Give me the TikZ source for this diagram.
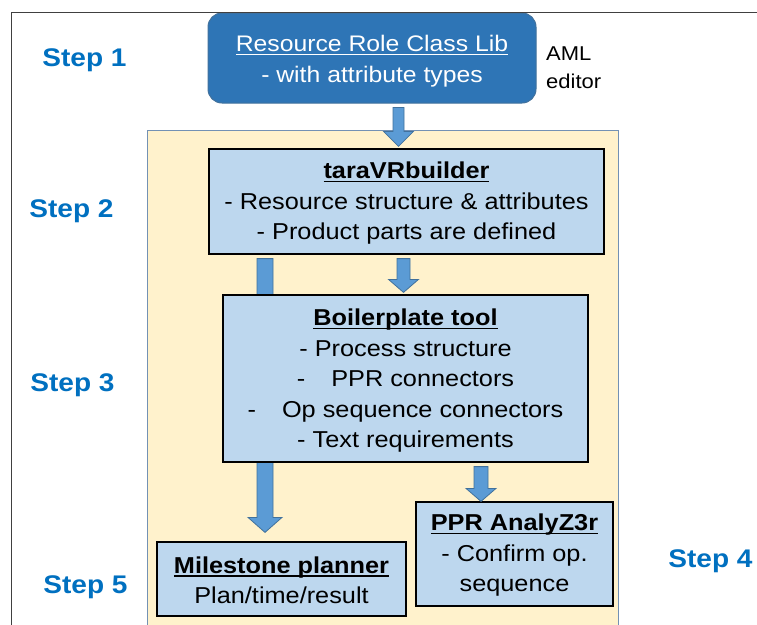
\documentclass[tikz,border=0pt]{standalone}
\usepackage{fontspec}
\setmainfont[FakeStretch=1.1]{Liberation Sans}
\usetikzlibrary{calc}
\definecolor{stepblue}{HTML}{0070C0}
\definecolor{darkbox}{HTML}{2E75B6}
\definecolor{darkboxline}{HTML}{41719C}
\definecolor{lightbox}{HTML}{BDD7EE}
\definecolor{cream}{HTML}{FFF2CC}
\definecolor{creamline}{HTML}{7391B4}
\definecolor{arrfill}{HTML}{5B9BD5}
\definecolor{arrline}{HTML}{41719C}
\definecolor{framegray}{HTML}{404040}
\newcommand\ulx[1]{\setbox0\hbox{#1}\leavevmode\rlap{\rule[-3.5pt]{\wd0}{1.3pt}}\box0}
\newcommand\blockarr[7]{%
  \coordinate (tmpx) at (#3,0);
  \path[blockarrow] let \p1=(tmpx |- #1.south), \p2=(tmpx |- #2.north) in
    (\x1-#4pt,\y1-4pt) -- (\x1+#4pt,\y1-4pt) -- (\x1+#4pt,\y2+#6pt+#7pt)
    -- (\x1+#5pt,\y2+#6pt+#7pt) -- (\x1,\y2+#7pt) -- (\x1-#5pt,\y2+#6pt+#7pt)
    -- (\x1-#4pt,\y2+#6pt+#7pt) -- cycle;}
\begin{document}
\begin{tikzpicture}[x=1pt,y=-1pt,
  steplabel/.style={font=\fontsize{25.5}{30}\selectfont\bfseries, text=stepblue, anchor=base, inner sep=0pt},
  toolbox/.style={draw=black, line width=1.2pt, fill=lightbox, align=center, font=\fontsize{23}{30.5}\selectfont, inner sep=0pt},
  rolebox/.style={draw=darkboxline, line width=1pt, fill=darkbox, rounded corners=14pt, text=white, align=center, font=\fontsize{22.5}{31}\selectfont, inner sep=0pt},
  areabox/.style={draw=creamline, line width=1pt, fill=cream, inner sep=0pt},
  blockarrow/.style={fill=arrfill, draw=arrline, line width=0.8pt, line join=miter},
  notetext/.style={font=\fontsize{20}{27.5}\selectfont, align=left, anchor=north west, inner sep=0pt}
]
\useasboundingbox (0,0) rectangle (757,624);
\clip (0,0) rectangle (757,624);
\fill[white] (0,0) rectangle (757,624);

\node[areabox, minimum width=471pt, minimum height=510pt] (area) at (382.5,385) {};

\node[rolebox, minimum width=328pt, minimum height=90pt] (res) at (372,58)
  {\rule{0pt}{23.5pt}\ulx{Resource Role Class Lib}\\- with attribute types};

\node[toolbox, minimum width=395pt, minimum height=105pt] (tara) at (406.5,201.5)
  {\rule{0pt}{20pt}\ulx{\bfseries taraVRbuilder}\\- Resource structure \& attributes\\- Product parts are defined};

\node[toolbox, minimum width=249pt, minimum height=74pt] (mile) at (281.5,579)
  {\rule{0pt}{19pt}\ulx{\bfseries Milestone planner}\\Plan/time/result};

\node[toolbox, minimum width=197pt, minimum height=104pt] (ppr) at (514.5,554)
  {\rule{0pt}{19pt}\ulx{\bfseries PPR AnalyZ3r}\\- Confirm op.\\sequence};

\blockarr{tara}{mile}{265}{8}{17}{15}{9}

\node[toolbox, minimum width=365pt, minimum height=167pt] (boil) at (405.5,378.5)
  {\rule{0pt}{21pt}\ulx{\bfseries Boilerplate tool}\\- Process structure\\-\hspace{26pt}PPR connectors\\-\hspace{26pt}Op sequence connectors\\- Text requirements};

\blockarr{res}{tara}{398.5}{5.5}{15}{15}{2}
\blockarr{tara}{boil}{403.5}{6.5}{15}{13}{2}
\blockarr{boil}{ppr}{481}{7}{15}{13}{0}

\node[steplabel] (s1) at (84.5,66) {Step 1};
\node[steplabel] (s2) at (71.5,217) {Step 2};
\node[steplabel] (s3) at (72.5,391) {Step 3};
\node[steplabel] (s4) at (710.5,567) {Step 4};
\node[steplabel] (s5) at (85.5,593) {Step 5};

\node[notetext] (aml) at (546,47) {AML\\editor};

\draw[framegray, line width=1pt] (757,12) -- (11,12) -- (11,630);
\end{tikzpicture}
\end{document}
